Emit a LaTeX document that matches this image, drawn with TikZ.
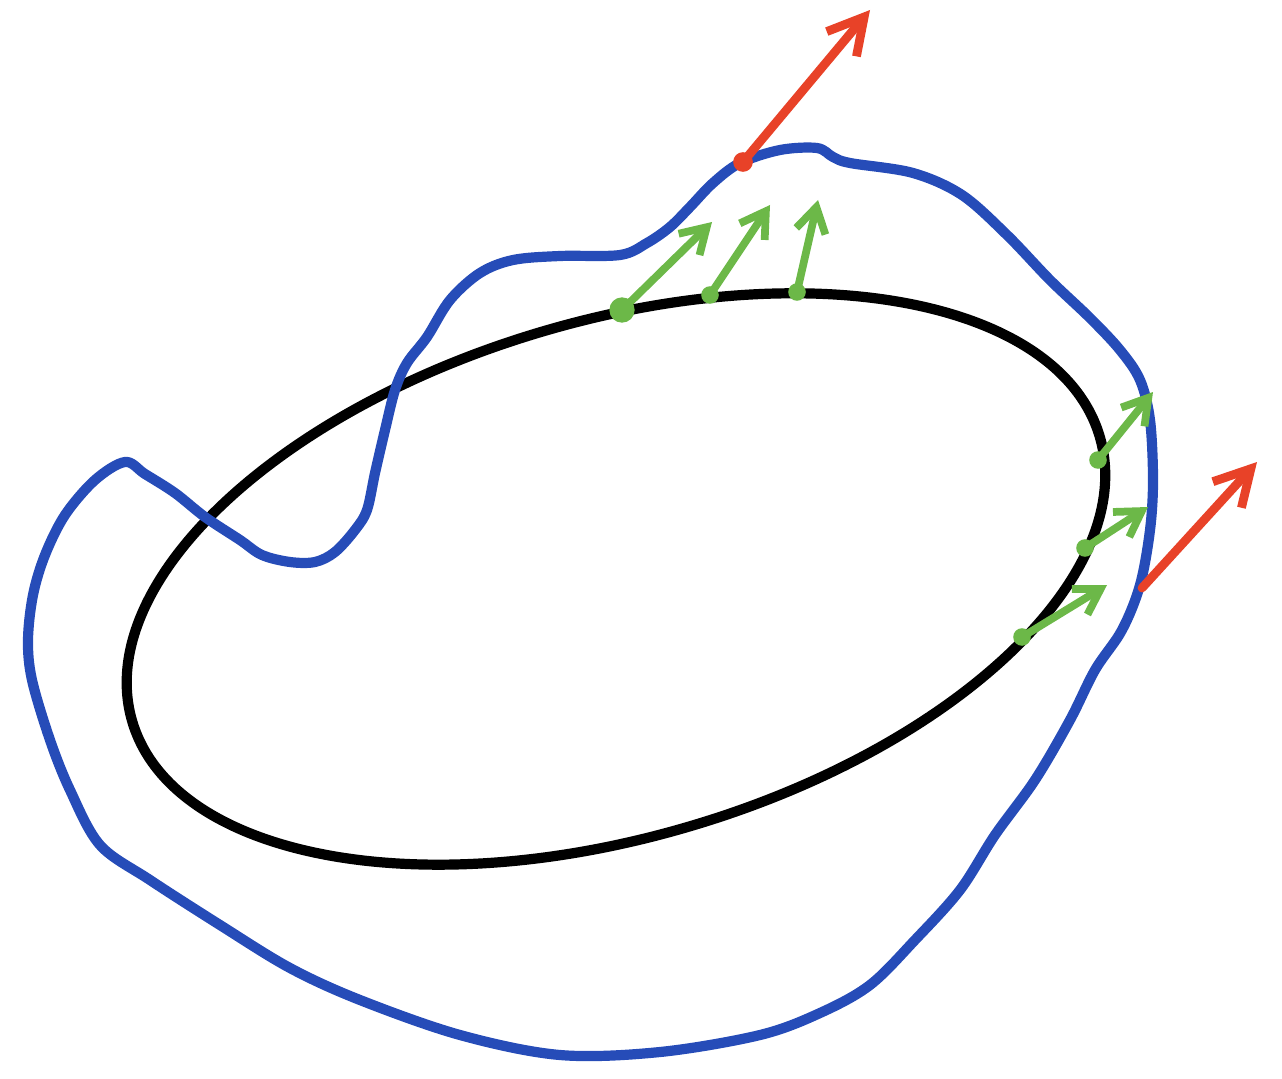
\documentclass[tikz,border=0pt]{standalone}
\usepackage{tikz}
\usetikzlibrary{arrows.meta}
\definecolor{inkblue}{RGB}{38,76,184}
\definecolor{inkgreen}{RGB}{108,184,72}
\definecolor{inkred}{RGB}{232,66,40}

\begin{document}
\begin{tikzpicture}
	[x=0.01cm,y=-0.01cm,line cap=round,line join=round,
	 curve/.style={line width=2.9pt},
	 gvec/.style={inkgreen,line width=2.2pt,-{Straight Barb[length=7pt,width=8.5pt]}},
	 rvec/.style={inkred,line width=2.5pt,-{Straight Barb[length=10pt,width=11pt]}}]
	\useasboundingbox (0,0) rectangle (1282,1079);
	% inner curve
	\coordinate (ctr) at (616,579);
	\draw [curve,rotate around={16.4:(ctr)}] (ctr) ellipse [x radius=5.04cm,y radius=2.58cm];
	% outer curve
	\draw [curve,inkblue] plot[smooth cycle,tension=0.55] coordinates {
		(125,462) (145,474) (175,493) (205,517) (240,540) (262,555) (290,562)
		(315,562) (335,552) (355,530) (367,510) (375,473) (385,430) (395,390)
		(407,363) (427,337) (450,300) (480,273) (513,260) (560,256)
		(620,255) (647,243) (670,227) (690,207) (713,183) (740,163) (780,150)
		(817,148) (833,157) (850,163) (913,173) (962,195) (1007,235)
		(1050,280) (1090,318) (1120,350) (1140,380) (1150,420)
		(1153,480) (1150,530) (1140,585) (1122,630) (1095,670) (1070,720)
		(1035,780) (995,835) (960,890) (915,940) (870,985) (820,1013)
		(760,1035) (660,1052) (560,1055) (460,1035) (360,1000) (290,968)
		(220,925) (150,880) (100,845) (70,790) (50,740) (32,680) (28,640)
		(33,595) (45,555) (65,515) (95,480)};
	% vectors on the inner curve
	\coordinate (g1) at (622,310);  \coordinate (h1) at (712,222);
	\coordinate (g2) at (710,295);  \coordinate (h2) at (770,205);
	\coordinate (g3) at (797,292);  \coordinate (h3) at (818,200);
	\coordinate (g4) at (1098,460); \coordinate (h4) at (1153,392);
	\coordinate (g5) at (1085,548); \coordinate (h5) at (1148,507);
	\coordinate (g6) at (1022,637); \coordinate (h6) at (1107,585);
	\foreach \i in {1,...,6}
		\draw [gvec] (g\i) -- (h\i);
	\fill [inkgreen] (g1) circle [radius=3.6pt];
	\foreach \i in {2,...,6}
		\fill [inkgreen] (g\i) circle [radius=2.5pt];
	% vectors on the outer curve
	\coordinate (r1) at (743,162);  \coordinate (s1) at (870,10);
	\coordinate (r2) at (1142,588); \coordinate (s2) at (1257,462);
	\draw [rvec] (r1) -- (s1);
	\draw [rvec] (r2) -- (s2);
	\fill [inkred] (r1) circle [radius=2.8pt];
\end{tikzpicture}
\end{document}
